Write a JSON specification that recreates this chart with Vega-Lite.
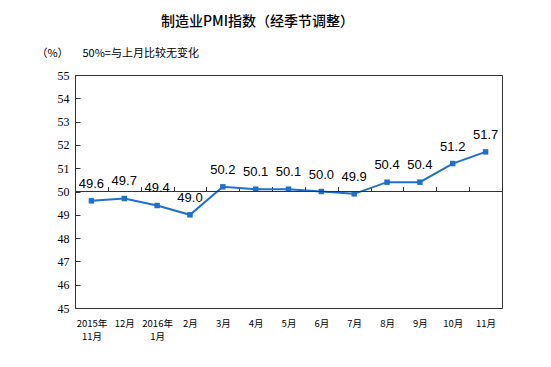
{
  "$schema": "https://vega.github.io/schema/vega-lite/v6.json",
  "width": 427,
  "height": 233,
  "autosize": {"type": "none"},
  "padding": {"left": 75, "top": 75, "right": 49, "bottom": 59},
  "background": "white",
  "title": {
    "text": "制造业PMI指数（经季节调整）",
    "font": "Noto Sans CJK SC",
    "fontSize": 14,
    "fontWeight": 500,
    "color": "#000000",
    "anchor": "middle",
    "dx": -31,
    "offset": 18
  },
  "config": {
    "view": {"stroke": "#333333", "strokeWidth": 1},
    "axisY": {
      "grid": false,
      "domain": false,
      "tickSize": -5,
      "tickColor": "#333333",
      "labelPadding": 11,
      "labelOverlap": false,
      "labelFont": "Liberation Serif",
      "labelFontSize": 12,
      "labelColor": "#000000",
      "titleAngle": 0,
      "titleFont": "Noto Sans CJK SC",
      "titleFontSize": 11,
      "titleFontWeight": "normal",
      "titleColor": "#000000",
      "titleAlign": "center",
      "titleBaseline": "middle",
      "titleX": -23,
      "titleY": -22
    }
  },
  "data": {
    "values": [
      {"month": "2015年|11月", "value": 49.6},
      {"month": "12月", "value": 49.7},
      {"month": "2016年|1月", "value": 49.4},
      {"month": "2月", "value": 49.0},
      {"month": "3月", "value": 50.2},
      {"month": "4月", "value": 50.1},
      {"month": "5月", "value": 50.1},
      {"month": "6月", "value": 50.0},
      {"month": "7月", "value": 49.9},
      {"month": "8月", "value": 50.4},
      {"month": "9月", "value": 50.4},
      {"month": "10月", "value": 51.2},
      {"month": "11月", "value": 51.7}
    ]
  },
  "resolve": {"axis": {"x": "independent"}},
  "layer": [
    {
      "mark": {
        "type": "line",
        "color": "#1F6FCF",
        "strokeWidth": 2,
        "point": {"shape": "square", "size": 30, "filled": true, "color": "#1F6FCF"}
      },
      "encoding": {
        "x": {
          "field": "month",
          "type": "ordinal",
          "sort": null,
          "scale": {"type": "point", "padding": 0.5},
          "axis": {
            "orient": "bottom",
            "title": null,
            "labelAngle": 0,
            "labelExpr": "split(datum.label, '|')",
            "labelFont": "Noto Sans CJK SC",
            "labelFontSize": 9.5,
            "labelColor": "#000000",
            "labelPadding": 10,
            "labelLineHeight": 13,
            "labelOverlap": false,
            "ticks": false,
            "domain": false
          }
        },
        "y": {
          "field": "value",
          "type": "quantitative",
          "title": "（%）",
          "scale": {"domain": [45, 55], "nice": false, "zero": false},
          "axis": {"labelOverlap": false, "values": [45, 46, 47, 48, 49, 50, 51, 52, 53, 54, 55]}
        }
      }
    },
    {
      "mark": {"type": "rule", "color": "#333333", "strokeWidth": 1},
      "encoding": {"y": {"datum": 50, "type": "quantitative", "title": "（%）", "axis": {"labelOverlap": false, "values": [45, 46, 47, 48, 49, 50, 51, 52, 53, 54, 55]}}}
    },
    {
      "mark": {"type": "text", "dy": -17, "font": "Liberation Sans", "fontSize": 13, "color": "#000000"},
      "encoding": {
        "x": {
          "field": "month",
          "type": "ordinal",
          "sort": null,
          "scale": {"type": "point", "padding": 0.5},
          "axis": {
            "orient": "top",
            "offset": -116.5,
            "labels": false,
            "domain": false,
            "ticks": true,
            "tickSize": 5,
            "tickOffset": 16.4,
            "tickColor": "#333333",
            "title": "50%=与上月比较无变化",
            "titleFont": "Noto Sans CJK SC",
            "titleFontSize": 11,
            "titleFontWeight": "normal",
            "titleColor": "#000000",
            "titleAlign": "left",
            "titleBaseline": "middle",
            "titleX": 7,
            "titleY": -138.5
          }
        },
        "y": {"field": "value", "type": "quantitative", "title": "（%）", "axis": {"labelOverlap": false, "values": [45, 46, 47, 48, 49, 50, 51, 52, 53, 54, 55]}},
        "text": {"field": "value", "type": "quantitative", "format": ".1f"}
      }
    }
  ]
}
